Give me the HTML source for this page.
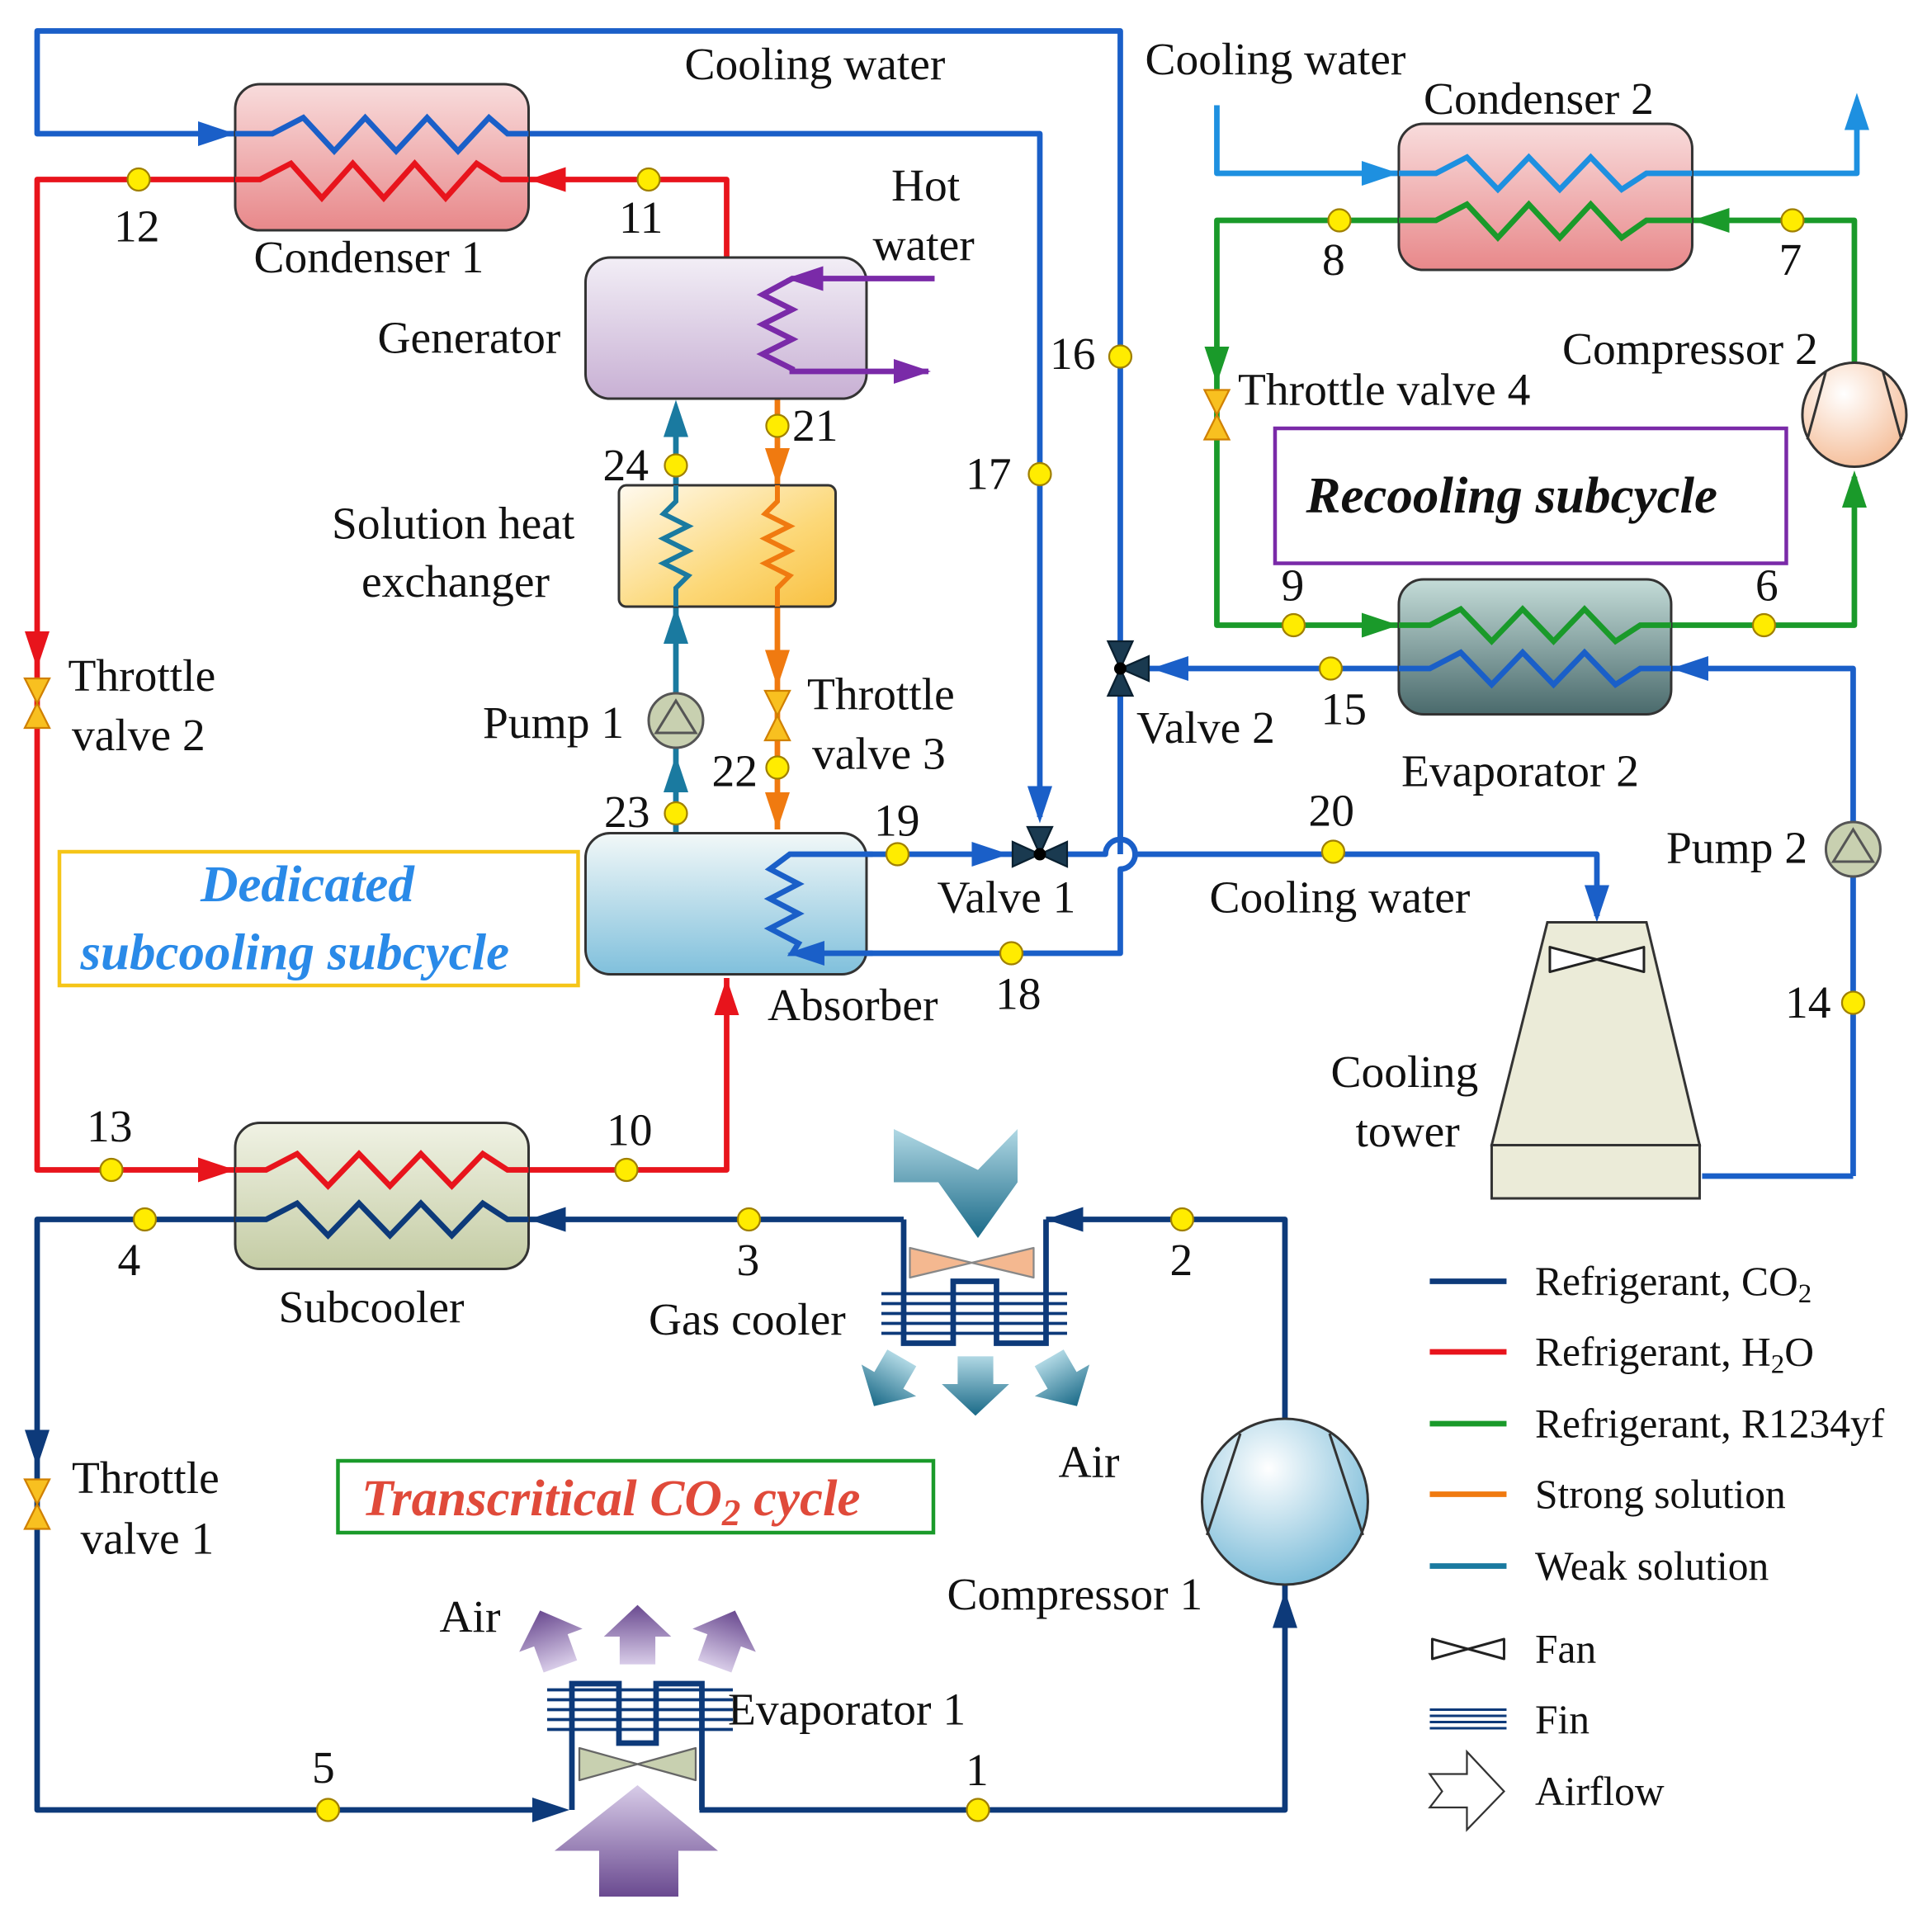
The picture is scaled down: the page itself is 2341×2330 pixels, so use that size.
<!DOCTYPE html>
<html><head><meta charset="utf-8"><style>
html,body{margin:0;padding:0;background:#fff}
svg{display:block}
text{font-family:"Liberation Serif",serif;font-size:37px;fill:#111}
</style></head><body>
<svg width="2341" height="2330" viewBox="0 0 1560.7 1553.3" xmlns="http://www.w3.org/2000/svg">
<defs>
<linearGradient id="gPink" x1="0" y1="0" x2="0" y2="1"><stop offset="0" stop-color="#f8dcdc"/><stop offset="1" stop-color="#e8888a"/></linearGradient>
<linearGradient id="gGen" x1="0" y1="0" x2="0" y2="1"><stop offset="0" stop-color="#f2eef6"/><stop offset="1" stop-color="#c8b0d4"/></linearGradient>
<linearGradient id="gShx" x1="0" y1="0" x2="1" y2="1"><stop offset="0" stop-color="#fffaf0"/><stop offset="0.6" stop-color="#fcd878"/><stop offset="1" stop-color="#f8c040"/></linearGradient>
<linearGradient id="gAbs" x1="0" y1="0" x2="0" y2="1"><stop offset="0" stop-color="#f2f8f8"/><stop offset="1" stop-color="#80c0dc"/></linearGradient>
<linearGradient id="gSub" x1="0" y1="0" x2="0" y2="1"><stop offset="0" stop-color="#f0f2e4"/><stop offset="1" stop-color="#c4cca4"/></linearGradient>
<linearGradient id="gEv2" x1="0" y1="0" x2="0" y2="1"><stop offset="0" stop-color="#c4dcd8"/><stop offset="1" stop-color="#4a6a6c"/></linearGradient>
<radialGradient id="gComp1" cx="0.4" cy="0.3" r="0.8"><stop offset="0" stop-color="#ffffff"/><stop offset="1" stop-color="#6cb4d4"/></radialGradient>
<radialGradient id="gComp2" cx="0.4" cy="0.3" r="0.8"><stop offset="0" stop-color="#ffffff"/><stop offset="1" stop-color="#f4b890"/></radialGradient>
<linearGradient id="gAirB" x1="0" y1="0" x2="0" y2="1"><stop offset="0" stop-color="#b0d8e4"/><stop offset="1" stop-color="#1a6a88"/></linearGradient>
<linearGradient id="gAirP" x1="0" y1="0" x2="0" y2="1"><stop offset="0" stop-color="#d8cce8"/><stop offset="1" stop-color="#6a4a90"/></linearGradient>
<polygon id="arr" points="-18,-28 18,-28 18,0 34,0 0,32 -34,0 -18,0"/>
</defs>

<g fill="none" stroke-width="4.5" stroke-linejoin="round">
<path d="M905,690 V25 H30 V108 H190 M427,108 H840 V660" stroke="#1a5fc8"/>
<path d="M905,540 V678 A12,12 0 0 1 905,702 V770 H700" stroke="#1a5fc8"/>
<path d="M1497,950 V540 H1350 M1130,540 H925" stroke="#1a5fc8"/>
<path d="M1375,950 H1497" stroke="#1a5fc8"/>
<path d="M700,690 H820 M855,690 H893 A12,12 0 0 1 917,690 H1290 V740" stroke="#1a5fc8"/>
<path d="M983,85 V140 H1130 M1367,140 H1500 V85" stroke="#1e90e0"/>
<path d="M587,208 V145 H427 M190,145 H30 V945 H190 M427,945 H587 V790" stroke="#e8141c"/>
<path d="M1498,295 V178 H1367 M1130,178 H983 V505 H1130 M1350,505 H1498 V385" stroke="#1a9a2a"/>
<path d="M546,673 V330" stroke="#1a7aa0"/>
<path d="M628,322 V670" stroke="#f07a10"/>
<path d="M190,985 H30 V1462 H440 M565,1462 H1038 V1280 M1038,1148 V985 H845 M730,985 H427" stroke="#0d3a7a"/>
</g>

<g>
<polygon points="190,108 160,98 160,118" fill="#1a5fc8"/>
<polygon points="840,665 830,635 850,635" fill="#1a5fc8"/>
<polygon points="930,540 960,530 960,550" fill="#1a5fc8"/>
<polygon points="1350,540 1380,530 1380,550" fill="#1a5fc8"/>
<polygon points="815,690 785,680 785,700" fill="#1a5fc8"/>
<polygon points="1290,745 1280,715 1300,715" fill="#1a5fc8"/>
<polygon points="1130,140 1100,130 1100,150" fill="#1e90e0"/>
<polygon points="1500,75 1490,105 1510,105" fill="#1e90e0"/>
<polygon points="427,145 457,135 457,155" fill="#e8141c"/>
<polygon points="30,540 20,510 40,510" fill="#e8141c"/>
<polygon points="190,945 160,935 160,955" fill="#e8141c"/>
<polygon points="587,790 577,820 597,820" fill="#e8141c"/>
<polygon points="1367,178 1397,168 1397,188" fill="#1a9a2a"/>
<polygon points="983,310 973,280 993,280" fill="#1a9a2a"/>
<polygon points="1130,505 1100,495 1100,515" fill="#1a9a2a"/>
<polygon points="1498,380 1488,410 1508,410" fill="#1a9a2a"/>
<polygon points="546,323 536,353 556,353" fill="#1a7aa0"/>
<polygon points="546,490 536,520 556,520" fill="#1a7aa0"/>
<polygon points="546,610 536,640 556,640" fill="#1a7aa0"/>
<polygon points="628,392 618,362 638,362" fill="#f07a10"/>
<polygon points="628,555 618,525 638,525" fill="#f07a10"/>
<polygon points="628,670 618,640 638,640" fill="#f07a10"/>
<polygon points="30,1185 20,1155 40,1155" fill="#0d3a7a"/>
<polygon points="460,1462 430,1452 430,1472" fill="#0d3a7a"/>
<polygon points="1038,1285 1028,1315 1048,1315" fill="#0d3a7a"/>
<polygon points="845,985 875,975 875,995" fill="#0d3a7a"/>
<polygon points="427,985 457,975 457,995" fill="#0d3a7a"/>
</g>

<rect x="190" y="68" width="237" height="118" rx="20" fill="url(#gPink)" stroke="#333" stroke-width="2"/>
<path d="M190,108 H220 L245,95 L270,122 L295,95 L320,122 L345,95 L370,122 L395,95 L410,108 H427" fill="none" stroke="#1a5fc8" stroke-width="4.5"/>
<path d="M190,145 H210 L235,132 L260,160 L285,132 L310,160 L335,132 L360,160 L385,132 L405,145 H427" fill="none" stroke="#e8141c" stroke-width="4.5"/>
<rect x="1130" y="100" width="237" height="118" rx="20" fill="url(#gPink)" stroke="#333" stroke-width="2"/>
<path d="M1130,140 H1160 L1185,127 L1210,153 L1235,127 L1260,153 L1285,127 L1310,153 L1330,140 H1367" fill="none" stroke="#1e90e0" stroke-width="4.5"/>
<path d="M1130,178 H1160 L1185,165 L1210,192 L1235,165 L1260,192 L1285,165 L1310,192 L1330,178 H1367" fill="none" stroke="#1a9a2a" stroke-width="4.5"/>
<rect x="1130" y="468" width="220" height="109" rx="20" fill="url(#gEv2)" stroke="#333" stroke-width="2"/>
<path d="M1130,505 H1155 L1180,492 L1205,518 L1230,492 L1255,518 L1280,492 L1305,518 L1325,505 H1350" fill="none" stroke="#1a9a2a" stroke-width="4.5"/>
<path d="M1130,540 H1155 L1180,527 L1205,553 L1230,527 L1255,553 L1280,527 L1305,553 L1325,540 H1350" fill="none" stroke="#1a5fc8" stroke-width="4.5"/>
<rect x="473" y="208" width="227" height="114" rx="20" fill="url(#gGen)" stroke="#333" stroke-width="2"/>
<path d="M755,225 H640 L616,238 L640,250 L616,262 L640,274 L616,286 L640,298 L640,300 H750" fill="none" stroke="#7a2aa8" stroke-width="4.5"/>
<polygon points="635,225 665,215 665,235" fill="#7a2aa8"/>
<polygon points="752,300 722,290 722,310" fill="#7a2aa8"/>
<rect x="500" y="392" width="175" height="98" rx="6" fill="url(#gShx)" stroke="#333" stroke-width="2"/>
<path d="M546,392 V405 L536,415 L556,425 L536,435 L556,445 L536,455 L556,465 L546,475 V490" fill="none" stroke="#1a7aa0" stroke-width="4"/>
<path d="M628,392 V405 L618,415 L638,425 L618,435 L638,445 L618,455 L638,465 L628,475 V490" fill="none" stroke="#f07a10" stroke-width="4"/>
<rect x="473" y="673" width="227" height="114" rx="20" fill="url(#gAbs)" stroke="#333" stroke-width="2"/>
<path d="M705,690 H638 L622,702 L645,714 L622,726 L645,738 L622,750 L645,762 L640,770 H705" fill="none" stroke="#1a5fc8" stroke-width="4.5"/>
<polygon points="636,770 666,760 666,780" fill="#1a5fc8"/>
<rect x="190" y="907" width="237" height="118" rx="20" fill="url(#gSub)" stroke="#333" stroke-width="2"/>
<path d="M190,945 H215 L240,932 L265,958 L290,932 L315,958 L340,932 L365,958 L390,932 L410,945 H427" fill="none" stroke="#e8141c" stroke-width="4.5"/>
<path d="M190,985 H215 L240,972 L265,998 L290,972 L315,998 L340,972 L365,998 L390,972 L410,985 H427" fill="none" stroke="#0d3a7a" stroke-width="4.5"/>

<polygon points="1250,745 1330,745 1373,925 1205,925" fill="#ebebd8" stroke="#333" stroke-width="2"/>
<rect x="1205" y="925" width="168" height="43" fill="#ebebd8" stroke="#333" stroke-width="2"/>
<polygon points="1252,765 1290,775 1328,765 1328,785 1290,775 1252,785" fill="#fff" stroke="#222" stroke-width="2" stroke-linejoin="round"/>

<circle cx="1038" cy="1213" r="67" fill="url(#gComp1)" stroke="#333" stroke-width="2"/>
<path d="M1002,1158 L975,1240 M1074,1158 L1101,1240" stroke="#333" stroke-width="2"/>
<circle cx="1498" cy="335" r="42" fill="url(#gComp2)" stroke="#333" stroke-width="2"/>
<path d="M1475,300 L1460,355 M1521,300 L1536,355" stroke="#333" stroke-width="2"/>
<circle cx="546" cy="582" r="22" fill="#c8d0b0" stroke="#555" stroke-width="2"/>
<polygon points="546,566 530,592 562,592" fill="none" stroke="#555" stroke-width="2"/>
<circle cx="1497" cy="686" r="22" fill="#c8d0b0" stroke="#555" stroke-width="2"/>
<polygon points="1497,670 1481,696 1513,696" fill="none" stroke="#555" stroke-width="2"/>

<g stroke="#d08000" stroke-width="1.5" fill="#f8c020">
<polygon points="20,548 40,548 30,568"/><polygon points="20,588 40,588 30,568"/>
<polygon points="618,558 638,558 628,578"/><polygon points="618,598 638,598 628,578"/>
<polygon points="973,315 993,315 983,335"/><polygon points="973,355 993,355 983,335"/>
<polygon points="20,1195 40,1195 30,1215"/><polygon points="20,1235 40,1235 30,1215"/>
</g>
<g fill="#1a3a50" stroke="#0a2030" stroke-width="1.5">
<polygon points="818,680 818,700 840,690"/><polygon points="862,680 862,700 840,690"/><polygon points="830,668 850,668 840,690"/>
<polygon points="895,518 915,518 905,540"/><polygon points="895,562 915,562 905,540"/><polygon points="928,530 928,550 905,540"/>
</g>
<circle cx="840" cy="690" r="5" fill="#000"/><circle cx="905" cy="540" r="5" fill="#000"/>

<!-- Gas cooler -->
<g stroke="#0d3a7a" stroke-width="2.5" fill="none">
<path d="M712,1045 H862 M712,1053 H862 M712,1061 H862 M712,1069 H862 M712,1077 H862"/>
<path d="M845,985 V1085 H805 V1035 H770 V1085 H730 V985" stroke-width="4.5"/>
</g>
<polygon points="735,1008 785,1020 835,1008 835,1032 785,1020 735,1032" fill="#f4b890" stroke="#888" stroke-width="1.5" stroke-linejoin="round"/>
<polygon points="722,912 790,945 822,912 822,955 790,1000 758,955 722,955" fill="url(#gAirB)"/>
<use href="#arr" transform="translate(718,1115) rotate(30) scale(0.75)" fill="url(#gAirB)"/>
<use href="#arr" transform="translate(788,1118) scale(0.8)" fill="url(#gAirB)"/>
<use href="#arr" transform="translate(858,1115) rotate(-30) scale(0.75)" fill="url(#gAirB)"/>

<!-- Evaporator 1 -->
<g stroke="#0d3a7a" stroke-width="2.5" fill="none">
<path d="M442,1365 H592 M442,1373 H592 M442,1381 H592 M442,1389 H592 M442,1397 H592"/>
<path d="M462,1462 V1360 H500 V1408 H530 V1360 H567 V1462" stroke-width="4.5"/>
</g>
<polygon points="468,1412 515,1425 562,1412 562,1438 515,1425 468,1438" fill="#c8d0b0" stroke="#666" stroke-width="1.5" stroke-linejoin="round"/>
<polygon points="448,1495 515,1442 580,1495 548,1495 548,1532 484,1532 484,1495" fill="url(#gAirP)"/>
<use href="#arr" transform="translate(445,1325) rotate(160) scale(0.8)" fill="url(#gAirP)"/>
<use href="#arr" transform="translate(515,1322) rotate(180) scale(0.8)" fill="url(#gAirP)"/>
<use href="#arr" transform="translate(585,1325) rotate(-160) scale(0.8)" fill="url(#gAirP)"/>

<g fill="#ffec00" stroke="#a08000" stroke-width="1.5">
<circle cx="112" cy="145" r="9"/><circle cx="524" cy="145" r="9"/>
<circle cx="905" cy="288" r="9"/><circle cx="840" cy="383" r="9"/>
<circle cx="628" cy="344" r="9"/><circle cx="546" cy="376" r="9"/>
<circle cx="628" cy="620" r="9"/><circle cx="546" cy="657" r="9"/>
<circle cx="725" cy="690" r="9"/><circle cx="817" cy="770" r="9"/>
<circle cx="1077" cy="688" r="9"/><circle cx="1075" cy="540" r="9"/>
<circle cx="1497" cy="810" r="9"/>
<circle cx="1082" cy="178" r="9"/><circle cx="1448" cy="178" r="9"/>
<circle cx="1045" cy="505" r="9"/><circle cx="1425" cy="505" r="9"/>
<circle cx="90" cy="945" r="9"/><circle cx="506" cy="945" r="9"/>
<circle cx="117" cy="985" r="9"/><circle cx="605" cy="985" r="9"/><circle cx="955" cy="985" r="9"/>
<circle cx="265" cy="1462" r="9"/><circle cx="790" cy="1462" r="9"/>
</g>

<rect x="1030" y="346" width="413" height="109" fill="none" stroke="#7a2aa8" stroke-width="3"/>
<rect x="48" y="688" width="419" height="108" fill="none" stroke="#f5c518" stroke-width="3"/>
<rect x="273" y="1180" width="481" height="58" fill="none" stroke="#1a9a2a" stroke-width="3"/>

<text x="553" y="64">Cooling water</text>
<text x="925" y="60">Cooling water</text>
<text x="1150" y="92">Condenser 2</text>
<text x="205" y="220">Condenser 1</text>
<text x="92" y="195">12</text>
<text x="500" y="188">11</text>
<text x="720" y="162">Hot</text>
<text x="705" y="210">water</text>
<text x="305" y="285">Generator</text>
<text x="848" y="298">16</text>
<text x="640" y="356">21</text>
<text x="487" y="388">24</text>
<text x="780" y="395">17</text>
<text x="268" y="435">Solution heat</text>
<text x="292" y="482">exchanger</text>
<text x="55" y="558">Throttle</text>
<text x="58" y="606">valve 2</text>
<text x="652" y="573">Throttle</text>
<text x="656" y="621">valve 3</text>
<text x="390" y="596">Pump 1</text>
<text x="575" y="635">22</text>
<text x="488" y="668">23</text>
<text x="706" y="675">19</text>
<text x="757" y="737">Valve 1</text>
<text x="620" y="824">Absorber</text>
<text x="804" y="815">18</text>
<text x="1068" y="222">8</text>
<text x="1437" y="222">7</text>
<text x="1262" y="294">Compressor 2</text>
<text x="1000" y="327">Throttle valve 4</text>
<text x="1055" y="414" style="font-weight:bold;font-style:italic;font-size:42px">Recooling subcycle</text>
<text x="1035" y="485">9</text>
<text x="1418" y="485">6</text>
<text x="918" y="600">Valve 2</text>
<text x="1067" y="585">15</text>
<text x="1132" y="635">Evaporator 2</text>
<text x="1057" y="667">20</text>
<text x="1346" y="697">Pump 2</text>
<text x="977" y="737">Cooling water</text>
<text x="1442" y="822">14</text>
<text x="1075" y="878">Cooling</text>
<text x="1095" y="926">tower</text>
<text x="162" y="728" style="font-weight:bold;font-style:italic;font-size:42px;fill:#2a8ae8">Dedicated</text>
<text x="65" y="783" style="font-weight:bold;font-style:italic;font-size:42px;fill:#2a8ae8">subcooling subcycle</text>
<text x="70" y="922">13</text>
<text x="490" y="925">10</text>
<text x="95" y="1030">4</text>
<text x="595" y="1030">3</text>
<text x="945" y="1030">2</text>
<text x="225" y="1068">Subcooler</text>
<text x="524" y="1078">Gas cooler</text>
<text x="855" y="1193">Air</text>
<text x="58" y="1206">Throttle</text>
<text x="65" y="1255">valve 1</text>
<text x="292" y="1224" style="font-weight:bold;font-style:italic;font-size:42px;fill:#e04a3a">Transcritical CO<tspan style="font-size:30px;fill:#e04a3a" dy="8">2</tspan><tspan dy="-8" style="fill:#e04a3a"> cycle</tspan></text>
<text x="765" y="1300">Compressor 1</text>
<text x="355" y="1318">Air</text>
<text x="588" y="1393">Evaporator 1</text>
<text x="252" y="1440">5</text>
<text x="780" y="1442">1</text>

<g stroke-width="4.5">
<line x1="1155" y1="1035" x2="1217" y2="1035" stroke="#0d3a7a"/>
<line x1="1155" y1="1092" x2="1217" y2="1092" stroke="#e8141c"/>
<line x1="1155" y1="1150" x2="1217" y2="1150" stroke="#1a9a2a"/>
<line x1="1155" y1="1207" x2="1217" y2="1207" stroke="#f07a10"/>
<line x1="1155" y1="1265" x2="1217" y2="1265" stroke="#1a7aa0"/>
</g>
<polygon points="1157,1324 1186,1332 1215,1324 1215,1340 1186,1332 1157,1340" fill="#fff" stroke="#222" stroke-width="2" stroke-linejoin="round"/>
<g stroke="#0d3a7a" stroke-width="2"><line x1="1155" y1="1381" x2="1217" y2="1381"/><line x1="1155" y1="1386" x2="1217" y2="1386"/><line x1="1155" y1="1391" x2="1217" y2="1391"/><line x1="1155" y1="1396" x2="1217" y2="1396"/></g>
<polygon points="1155,1433 1185,1433 1185,1415 1215,1447 1185,1478 1185,1460 1155,1460 1165,1447" fill="#fff" stroke="#333" stroke-width="1.5"/>
<text x="1240" y="1046" style="font-size:33px">Refrigerant, CO<tspan dy="6" style="font-size:22px">2</tspan></text>
<text x="1240" y="1103" style="font-size:33px">Refrigerant, H<tspan dy="6" style="font-size:22px">2</tspan><tspan dy="-6">O</tspan></text>
<text x="1240" y="1161" style="font-size:33px">Refrigerant, R1234yf</text>
<text x="1240" y="1218" style="font-size:33px">Strong solution</text>
<text x="1240" y="1276" style="font-size:33px">Weak solution</text>
<text x="1240" y="1343" style="font-size:33px">Fan</text>
<text x="1240" y="1400" style="font-size:33px">Fin</text>
<text x="1240" y="1458" style="font-size:33px">Airflow</text>
</svg>
</body></html>
